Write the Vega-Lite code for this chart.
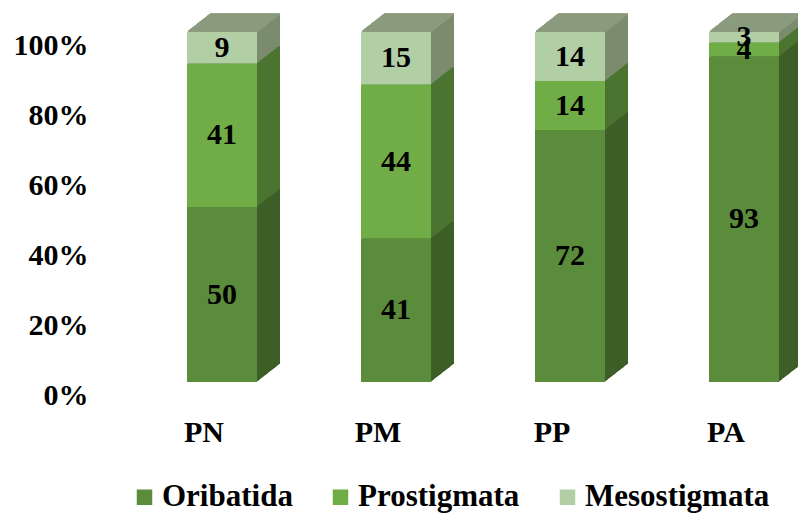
{
 "$schema": "https://vega.github.io/schema/vega-lite/v6.json",
 "width": 592, "height": 350,
 "autosize": {"type": "none"},
 "padding": {"left": 187, "top": 32, "right": 19, "bottom": 131},
 "background": "white",
 "config": {"view": {"stroke": null}, "tick": {"bandSize": 70, "thickness": 1.6, "color": "#8b9c7f"}, "font": "Liberation Serif"},
 "data": {"values": [
  {"group": "PN", "taxon": "Oribatida", "value": 50},
  {"group": "PN", "taxon": "Prostigmata", "value": 41},
  {"group": "PN", "taxon": "Mesostigmata", "value": 9},
  {"group": "PM", "taxon": "Oribatida", "value": 41},
  {"group": "PM", "taxon": "Prostigmata", "value": 44},
  {"group": "PM", "taxon": "Mesostigmata", "value": 15},
  {"group": "PP", "taxon": "Oribatida", "value": 72},
  {"group": "PP", "taxon": "Prostigmata", "value": 14},
  {"group": "PP", "taxon": "Mesostigmata", "value": 14},
  {"group": "PA", "taxon": "Oribatida", "value": 93},
  {"group": "PA", "taxon": "Prostigmata", "value": 4},
  {"group": "PA", "taxon": "Mesostigmata", "value": 3}
 ]},
 "transform": [{"calculate": "indexof(['Oribatida','Prostigmata','Mesostigmata'], datum.taxon)", "as": "o"}],
 "encoding": {
  "x": {"field": "group", "type": "nominal", "sort": ["PN", "PM", "PP", "PA"],
        "scale": {"paddingInner": 0.5977, "paddingOuter": 0},
        "axis": {"title": null, "labelAngle": 0, "domain": false, "ticks": false, "tickSize": 0, "labelPadding": 35, "labelOffset": -18,
                 "labelFont": "Liberation Serif", "labelFontSize": 30, "labelFontWeight": "bold", "labelColor": "black"}},
  "y": {"field": "value", "type": "quantitative", "scale": {"domain": [0, 100]},
        "axis": {"title": null, "values": [0, 20, 40, 60, 80, 100], "labelExpr": "datum.value + '%'", "grid": false, "domain": false, "ticks": false, "tickSize": 0,
                 "labelPadding": 99, "labelOffset": 13, "labelFont": "Liberation Serif", "labelFontSize": 30, "labelFontWeight": "bold", "labelColor": "black"}},
  "order": {"field": "o", "type": "quantitative"}
 },
 "layer": [
  {"encoding": {"fill": {"field": "o", "type": "ordinal", "scale": {"domain": [0, 1, 2], "range": ["#3d5e27", "#4b7431", "#7b8c6e"]}, "legend": null}},
   "layer": [
    {"mark": {"type": "bar", "xOffset": 23, "x2Offset": 23, "yOffset": -18, "y2Offset": -18}},
    {"mark": {"type": "bar", "xOffset": 22, "x2Offset": 22, "yOffset": -17.217, "y2Offset": -17.217}},
    {"mark": {"type": "bar", "xOffset": 21, "x2Offset": 21, "yOffset": -16.435, "y2Offset": -16.435}},
    {"mark": {"type": "bar", "xOffset": 20, "x2Offset": 20, "yOffset": -15.652, "y2Offset": -15.652}},
    {"mark": {"type": "bar", "xOffset": 19, "x2Offset": 19, "yOffset": -14.87, "y2Offset": -14.87}},
    {"mark": {"type": "bar", "xOffset": 18, "x2Offset": 18, "yOffset": -14.087, "y2Offset": -14.087}},
    {"mark": {"type": "bar", "xOffset": 17, "x2Offset": 17, "yOffset": -13.304, "y2Offset": -13.304}},
    {"mark": {"type": "bar", "xOffset": 16, "x2Offset": 16, "yOffset": -12.522, "y2Offset": -12.522}},
    {"mark": {"type": "bar", "xOffset": 15, "x2Offset": 15, "yOffset": -11.739, "y2Offset": -11.739}},
    {"mark": {"type": "bar", "xOffset": 14, "x2Offset": 14, "yOffset": -10.957, "y2Offset": -10.957}},
    {"mark": {"type": "bar", "xOffset": 13, "x2Offset": 13, "yOffset": -10.174, "y2Offset": -10.174}},
    {"mark": {"type": "bar", "xOffset": 12, "x2Offset": 12, "yOffset": -9.391, "y2Offset": -9.391}},
    {"mark": {"type": "bar", "xOffset": 11, "x2Offset": 11, "yOffset": -8.609, "y2Offset": -8.609}},
    {"mark": {"type": "bar", "xOffset": 10, "x2Offset": 10, "yOffset": -7.826, "y2Offset": -7.826}},
    {"mark": {"type": "bar", "xOffset": 9, "x2Offset": 9, "yOffset": -7.043, "y2Offset": -7.043}},
    {"mark": {"type": "bar", "xOffset": 8, "x2Offset": 8, "yOffset": -6.261, "y2Offset": -6.261}},
    {"mark": {"type": "bar", "xOffset": 7, "x2Offset": 7, "yOffset": -5.478, "y2Offset": -5.478}},
    {"mark": {"type": "bar", "xOffset": 6, "x2Offset": 6, "yOffset": -4.696, "y2Offset": -4.696}},
    {"mark": {"type": "bar", "xOffset": 5, "x2Offset": 5, "yOffset": -3.913, "y2Offset": -3.913}},
    {"mark": {"type": "bar", "xOffset": 4, "x2Offset": 4, "yOffset": -3.13, "y2Offset": -3.13}},
    {"mark": {"type": "bar", "xOffset": 3, "x2Offset": 3, "yOffset": -2.348, "y2Offset": -2.348}},
    {"mark": {"type": "bar", "xOffset": 2, "x2Offset": 2, "yOffset": -1.565, "y2Offset": -1.565}},
    {"mark": {"type": "bar", "xOffset": 1, "x2Offset": 1, "yOffset": -0.783, "y2Offset": -0.783}}
   ]},
  {"encoding": {"y": {"datum": 100}},
   "layer": [
    {"mark": {"type": "tick", "xOffset": 23, "yOffset": -18}},
    {"mark": {"type": "tick", "xOffset": 22, "yOffset": -17.217}},
    {"mark": {"type": "tick", "xOffset": 21, "yOffset": -16.435}},
    {"mark": {"type": "tick", "xOffset": 20, "yOffset": -15.652}},
    {"mark": {"type": "tick", "xOffset": 19, "yOffset": -14.87}},
    {"mark": {"type": "tick", "xOffset": 18, "yOffset": -14.087}},
    {"mark": {"type": "tick", "xOffset": 17, "yOffset": -13.304}},
    {"mark": {"type": "tick", "xOffset": 16, "yOffset": -12.522}},
    {"mark": {"type": "tick", "xOffset": 15, "yOffset": -11.739}},
    {"mark": {"type": "tick", "xOffset": 14, "yOffset": -10.957}},
    {"mark": {"type": "tick", "xOffset": 13, "yOffset": -10.174}},
    {"mark": {"type": "tick", "xOffset": 12, "yOffset": -9.391}},
    {"mark": {"type": "tick", "xOffset": 11, "yOffset": -8.609}},
    {"mark": {"type": "tick", "xOffset": 10, "yOffset": -7.826}},
    {"mark": {"type": "tick", "xOffset": 9, "yOffset": -7.043}},
    {"mark": {"type": "tick", "xOffset": 8, "yOffset": -6.261}},
    {"mark": {"type": "tick", "xOffset": 7, "yOffset": -5.478}},
    {"mark": {"type": "tick", "xOffset": 6, "yOffset": -4.696}},
    {"mark": {"type": "tick", "xOffset": 5, "yOffset": -3.913}},
    {"mark": {"type": "tick", "xOffset": 4, "yOffset": -3.13}},
    {"mark": {"type": "tick", "xOffset": 3, "yOffset": -2.348}},
    {"mark": {"type": "tick", "xOffset": 2, "yOffset": -1.565}},
    {"mark": {"type": "tick", "xOffset": 1, "yOffset": -0.783}}
   ]},
  {"mark": {"type": "bar"},
   "encoding": {"color": {"field": "taxon", "type": "nominal", "sort": ["Oribatida", "Prostigmata", "Mesostigmata"],
     "scale": {"domain": ["Oribatida", "Prostigmata", "Mesostigmata"], "range": ["#5b8c3b", "#70ad47", "#b2cea4"]},
     "legend": {"title": null, "orient": "none", "legendX": -58, "legendY": 449.5, "direction": "horizontal", "columns": 3,
                "symbolType": "square", "symbolSize": 240, "symbolStrokeWidth": 0, "symbolOpacity": 1, "labelFont": "Liberation Serif", "labelFontSize": 31,
                "labelFontWeight": "bold", "labelColor": "black", "labelOffset": 2, "columnPadding": 32, "padding": 0, "labelLimit": 400}}}},
  {"transform": [
     {"stack": "value", "groupby": ["group"], "sort": [{"field": "o", "order": "ascending"}], "as": ["v0", "v1"]},
     {"calculate": "(datum.v0 + datum.v1) / 2", "as": "mid"}
   ],
   "mark": {"type": "text", "font": "Liberation Serif", "fontSize": 30, "fontWeight": "bold", "color": "black"},
   "encoding": {"y": {"field": "mid", "type": "quantitative"}, "text": {"field": "value", "type": "quantitative"}}}
 ]
}
